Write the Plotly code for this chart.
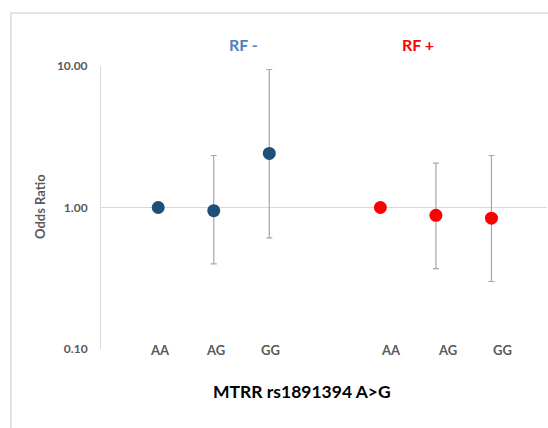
import plotly.graph_objects as go

# ---- data ----
genotypes = ["AA", "AG", "GG"]
groups = ["RF -", "RF +"]
rf_neg_or = [1.00, 0.95, 2.41]
rf_neg_lo = [1.00, 0.40, 0.61]
rf_neg_hi = [1.00, 2.33, 9.45]
rf_pos_or = [1.00, 0.88, 0.84]
rf_pos_lo = [1.00, 0.37, 0.30]
rf_pos_hi = [1.00, 2.06, 2.33]
y_ticks = [0.1, 1, 10]
y_tick_labels = ["0.10", "1.00", "10.00"]
x_title = "MTRR rs1891394 A>G"
y_title = "Odds Ratio"

# ---- layout helpers ----
W, H = 548, 428
ML, MR, MT, MB = 101, 1, 66, 79
PW, PH = W - ML - MR, H - MT - MB
x_pos_neg = [0, 1, 2]
x_pos_pos = [4, 5, 6]
x_range = [-1.03, 7.0]


def px(xpix):
    return (xpix - ML) / PW


def py(ypix):
    return (H - MB - ypix) / PH


blue = "#1F4E79"
red = "#FF0000"
err_col = "#A6A6A6"
font_fam = "Lato, 'Open Sans', sans-serif"

fig = go.Figure()

# reference line at OR = 1
fig.add_trace(go.Scatter(x=x_range, y=[1, 1], mode="lines",
                         line=dict(color="#D9D9D9", width=1),
                         hoverinfo="skip", showlegend=False))


def add_series(xs, ors, los, his, color, name):
    fig.add_trace(go.Scatter(
        x=xs, y=ors, mode="markers", name=name, showlegend=False,
        marker=dict(color=color, size=13),
        error_y=dict(type="data", symmetric=False,
                     array=[h - o for h, o in zip(his, ors)],
                     arrayminus=[o - l for o, l in zip(ors, los)],
                     color=err_col, thickness=1.2, width=3),
    ))


add_series(x_pos_neg, rf_neg_or, rf_neg_lo, rf_neg_hi, blue, groups[0])
add_series(x_pos_pos, rf_pos_or, rf_pos_lo, rf_pos_hi, red, groups[1])

annotations = []
# genotype labels
for xs, shift in ((x_pos_neg, 0.03), (x_pos_pos, 0.2)):
    for xv, g in zip(xs, genotypes):
        annotations.append(dict(x=xv + shift, xref="x", y=py(350), yref="paper",
                                xanchor="center", yanchor="middle", text=g, showarrow=False,
                                font=dict(family=font_fam, size=13, color="#595959", weight="bold")))
# group headers
annotations.append(dict(x=px(243), y=py(45), xref="paper", yref="paper", text=groups[0],
                        xanchor="center", yanchor="middle", showarrow=False,
                        font=dict(family=font_fam, size=16, color="#4F81BD", weight="bold")))
annotations.append(dict(x=px(418), y=py(45), xref="paper", yref="paper", text=groups[1],
                        xanchor="center", yanchor="middle", showarrow=False,
                        font=dict(family=font_fam, size=16, color=red, weight="bold")))
# axis titles
annotations.append(dict(x=px(302), y=py(391), xref="paper", yref="paper", text=x_title,
                        xanchor="center", yanchor="middle", showarrow=False,
                        font=dict(family=font_fam, size=17.5, color="#000000", weight="bold")))
annotations.append(dict(x=px(40), y=py(207), xref="paper", yref="paper", text=y_title, textangle=-90,
                        xanchor="center", yanchor="middle", showarrow=False,
                        font=dict(family=font_fam, size=13, color="#595959", weight="bold")))

fig.update_layout(
    width=W, height=H,
    margin=dict(l=ML, r=MR, t=MT, b=MB, pad=0),
    paper_bgcolor="white", plot_bgcolor="white",
    font=dict(family=font_fam),
    annotations=annotations,
    shapes=[dict(type="rect", xref="paper", yref="paper",
                 x0=px(11), x1=px(W + 20),
                 y0=py(H + 20), y1=py(13),
                 line=dict(color="#D9D9D9", width=1.5), fillcolor="rgba(0,0,0,0)", layer="below")],
    xaxis=dict(range=x_range, showgrid=False, zeroline=False, showline=False,
               showticklabels=False, ticks=""),
    yaxis=dict(type="log", range=[-1, 1], tickvals=y_ticks, ticktext=y_tick_labels,
               showgrid=False, zeroline=False, showline=True, linecolor="#D9D9D9", linewidth=1,
               ticks="", ticklabelstandoff=10,
               tickfont=dict(family=font_fam, size=12, color="#595959", weight="bold")),
)

fig.write_html("out.html", config={"displayModeBar": False},
               post_script="document.body.style.margin='0';document.body.style.overflow='hidden';")
